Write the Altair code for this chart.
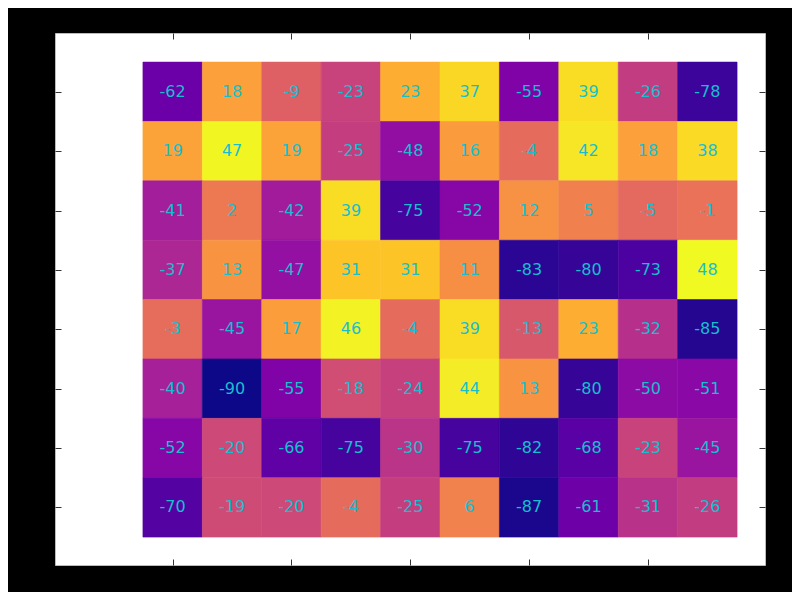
import altair as alt
import pandas as pd

row0 = [-62, 18, -9, -23, 23, 37, -55, 39, -26, -78]
row1 = [19, 47, 19, -25, -48, 16, -4, 42, 18, 38]
row2 = [-41, 2, -42, 39, -75, -52, 12, 5, -5, -1]
row3 = [-37, 13, -47, 31, 31, 11, -83, -80, -73, 48]
row4 = [-3, -45, 17, 46, -4, 39, -13, 23, -32, -85]
row5 = [-40, -90, -55, -18, -24, 44, 13, -80, -50, -51]
row6 = [-52, -20, -66, -75, -30, -75, -82, -68, -23, -45]
row7 = [-70, -19, -20, -4, -25, 6, -87, -61, -31, -26]
rows = [row0, row1, row2, row3, row4, row5, row6, row7]

x_ticks = [0, 2, 4, 6, 8]
y_ticks = [0, 1, 2, 3, 4, 5, 6, 7]

records = []
for r, vals in enumerate(rows):
    for c, v in enumerate(vals):
        records.append({"col": c, "row": r, "c0": c - 0.5, "c1": c + 0.5,
                        "r0": r - 0.5, "r1": r + 0.5, "v": v, "label": str(v)})
df = pd.DataFrame(records)

xs = alt.Scale(domain=[-1.98, 9.97], nice=False, zero=False)
ys = alt.Scale(domain=[-0.99, 7.97], nice=False, zero=False, reverse=True)
cs = alt.Scale(scheme="plasma", domain=[-90, 48])

def ax(orient, values):
    return alt.Axis(orient=orient, values=values, labels=False, grid=False,
                    domain=False, tickSize=6, offset=-6, tickColor="#333333",
                    tickWidth=1, title=None)

base = alt.Chart(df)

rects = base.mark_rect(strokeWidth=0.6).encode(
    x=alt.X("c0:Q", scale=xs, axis=ax("bottom", x_ticks)),
    x2="c1:Q",
    y=alt.Y("r0:Q", scale=ys, axis=ax("left", y_ticks)),
    y2="r1:Q",
    color=alt.Color("v:Q", scale=cs, legend=None),
    stroke=alt.Stroke("v:Q", scale=cs, legend=None),
)

texts = base.mark_text(fontSize=16, font="DejaVu Sans", color="#17becf",
                       baseline="middle", align="center").encode(
    x=alt.X("col:Q", scale=xs, axis=ax("top", x_ticks)),
    y=alt.Y("row:Q", scale=ys, axis=ax("right", y_ticks)),
    text="label:N",
)

chart = alt.layer(rects, texts).resolve_axis(x="independent", y="independent").properties(
    width=710, height=532,
    autosize=alt.AutoSizeParams(type="none"),
    padding={"left": 47, "top": 25, "right": 27, "bottom": 27},
    background="black",
).configure_view(fill="white", stroke="#bbbbbb", strokeWidth=1)

chart.save("out.html", embed_options={"renderer": "svg", "actions": False})
